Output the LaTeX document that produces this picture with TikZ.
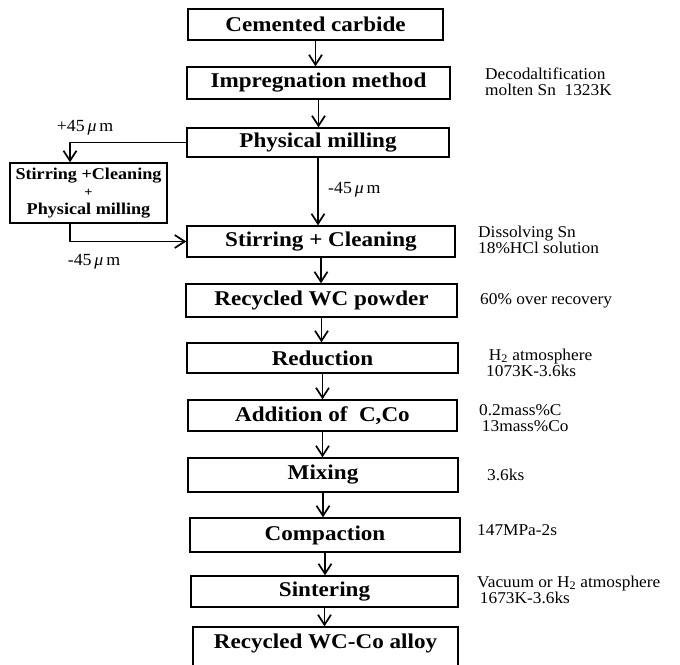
\documentclass[tikz,border=0pt]{standalone}
\usepackage{fontspec}
\setmainfont{Liberation Serif}
\newfontfamily\boxfont{Liberation Serif}[FakeStretch=1.1]
\newfontfamily\notefont{Liberation Serif}[FakeStretch=1.05]
\usetikzlibrary{arrows.meta}
\begin{document}
\begin{tikzpicture}[x=1pt,y=-1pt,
  box/.style={draw, line width=1.4pt, inner sep=0pt, align=center,
    font=\boxfont\bfseries\fontsize{21}{23}\selectfont},
  sidebox/.style={draw, line width=1.4pt, inner sep=0pt, align=center,
    font=\boxfont\bfseries\fontsize{16.5}{17.5}\selectfont},
  note/.style={anchor=west, inner sep=0pt, align=left,
    font=\notefont\fontsize{16.5}{16.5}\selectfont},
  lab/.style={inner sep=0pt, font=\notefont\fontsize{17}{18}\selectfont},
  arr/.style={line width=1.3pt, -{Straight Barb[length=10pt,width=13pt,line width=1.7pt]}},
  link/.style={line width=1.3pt}]
\useasboundingbox (0,0) rectangle (680,664);
\clip (0,0) rectangle (680,664);
\fill[white] (0,0) rectangle (680,664);

% main column
\node[box, minimum width=255pt, minimum height=31pt] (b1) at (315.5,24.5) {Cemented carbide};
\node[box, minimum width=263pt, minimum height=32pt] (b2) at (318.5,83) {Impregnation method};
\node[box, minimum width=262pt, minimum height=29pt] (b3) at (318,142.5) {Physical milling};
\node[box, minimum width=268pt, minimum height=31pt] (b4) at (321,241.5) {Stirring + Cleaning};
\node[box, minimum width=271pt, minimum height=33pt] (b5) at (321.5,300.5) {Recycled WC powder};
\node[box, minimum width=271pt, minimum height=30pt] (b6) at (322.5,358) {Reduction};
\node[box, minimum width=269pt, minimum height=31pt] (b7) at (322.5,415.5) {Addition of\ \ C,Co};
\node[box, minimum width=270pt, minimum height=34pt] (b8) at (323,475) {Mixing};
\node[box, minimum width=270pt, minimum height=34pt] (b9) at (325,535) {Compaction};
\node[box, minimum width=267pt, minimum height=31pt] (b10) at (324.5,591.5) {Sintering};
\node[box, minimum width=265pt, anchor=base, text height=21pt, text depth=32pt] (b11) at (325.5,648) {Recycled WC-Co alloy};

% side box
\node[sidebox, minimum width=157pt, minimum height=60pt] (side) at (88.5,193)
  {Stirring +Cleaning\\{\fontsize{13}{13}\selectfont +}\\Physical milling};

% main arrows
\foreach \a/\b in {b1/b2,b2/b3,b3/b4,b4/b5,b5/b6,b6/b7,b7/b8,b8/b9,b9/b10,b10/b11}
  \draw[arr] (\a.south) -- (\a.south |- \b.north);

% side loop
\coordinate (sx) at (70,0);
\draw[arr] (b3.west) -| (sx |- side.north);
\draw[arr] (sx |- side.south) |- (b4.west);

% labels
\node[lab] (l1) at (85,128) {+45\,\textit{μ}\,m};
\node[lab] (l2) at (94,262) {-45\,\textit{μ}\,m};
\node[lab, anchor=west] (l3) at (328,190) {-45\,\textit{μ}\,m};

% notes
\node[note] (n2) at (485,82) {Decodaltification\\molten Sn\ \ 1323K};
\node[note] (n4) at (478,240) {Dissolving Sn\\18\%HCl solution};
\node[note] (n5) at (480,301) {60\% over recovery};
\node[note] (n6) at (486,363) {\,H\textsubscript{2} atmosphere\\1073K-3.6ks};
\node[note] (n7) at (479,418) {0.2mass\%C\\\,13mass\%Co};
\node[note] (n8) at (487,475) {3.6ks};
\node[note] (n9) at (477,530) {147MPa-2s};
\node[note] (n10) at (477,590) {Vacuum or H\textsubscript{2} atmosphere\\\,1673K-3.6ks};
\end{tikzpicture}
\end{document}
